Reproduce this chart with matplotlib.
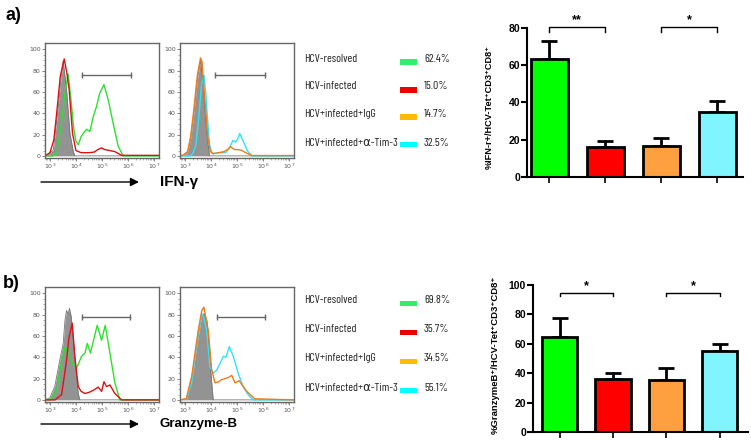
import matplotlib
matplotlib.use("Agg")
import matplotlib.pyplot as plt
from matplotlib.patches import Rectangle, FancyArrowPatch
from matplotlib import font_manager
import numpy as np

# ---------------- data ----------------
groups = ["HCV-resolved", "HCV-infected", "HCV+infected+IgG", "HCV+infected+\u03b1-Tim-3"]
pct_ifn = ["62.4%", "15.0%", "14.7%", "32.5%"]
pct_gzb = ["69.8%", "35.7%", "34.5%", "55.1%"]

ifn_mean = [63, 15.9, 16.6, 34.6]
ifn_sem = [10, 3.6, 4.4, 5.9]
gzb_mean = [64.4, 36, 35.6, 55.1]
gzb_sem = [12.9, 4, 8.1, 4.8]
ifn_sig = ["**", "*"]
gzb_sig = ["*", "*"]

# histogram curves (log10 fluorescence, % of max)
a1_gray_x = [2.81, 2.87, 3.13, 3.32, 3.45, 3.51, 3.64, 3.77, 3.90, 3.96, 4.2, 7.2]
a1_gray_y = [0, 0, 5.6, 46, 78, 89, 62, 21, 4, 0, 0, 0]
a1_red_x = [2.81, 3.0, 3.15, 3.26, 3.4, 3.55, 3.65, 3.74, 3.87, 4.0, 4.2, 4.5, 4.7, 4.85, 4.99, 5.1, 5.3, 5.5, 5.65, 5.76, 7.2]
a1_red_y = [0, 3, 15, 40, 75, 91, 78, 62, 21, 5, 3, 3, 3.5, 6, 7.5, 6, 5, 4, 2, 0.5, 0.5]
a1_green_x = [2.81, 3.1, 3.26, 3.45, 3.58, 3.70, 3.80, 3.92, 4.00, 4.09, 4.20, 4.28, 4.41, 4.54, 4.67, 4.79, 4.92, 5.08, 5.16, 5.24, 5.43, 5.63, 5.82, 7.2]
a1_green_y = [0, 0, 2, 31, 59, 77, 55, 25, 14, 10.4, 18, 21, 25, 23, 37, 46, 59, 67, 60, 53, 31, 9, 0, 0]

a2_gray_x = [2.81, 2.93, 3.1, 3.22, 3.35, 3.48, 3.61, 3.73, 3.86, 3.95, 4.1, 7.2]
a2_gray_y = [0, 0, 3, 16, 41, 72, 90, 56, 16, 0, 0, 0]
a2_orange_x = [2.81, 2.95, 3.1, 3.22, 3.35, 3.48, 3.6, 3.66, 3.75, 3.88, 3.98, 4.1, 4.3, 4.5, 4.65, 4.76, 4.9, 5.08, 5.2, 5.34, 5.58, 7.2]
a2_orange_y = [0, 1, 4, 18, 45, 76, 92, 88, 58, 18, 4, 2, 3, 4, 6, 8.6, 6, 5.7, 5, 3, 0.3, 0.3]
a2_cyan_x = [2.81, 3.2, 3.3, 3.42, 3.54, 3.64, 3.73, 3.80, 3.86, 3.95, 4.05, 4.3, 4.57, 4.7, 4.76, 4.85, 4.95, 5.03, 5.11, 5.24, 5.41, 5.58, 7.2]
a2_cyan_y = [0, 0, 2, 10, 38, 66, 76, 60, 38, 10, 2, 3, 3, 7, 10, 14.5, 13, 16, 21, 14, 4.5, 0, 0]

b1_gray_x = [2.81, 3.0, 3.19, 3.38, 3.51, 3.58, 3.64, 3.70, 3.75, 3.82, 3.9, 4.0, 4.09, 4.15, 7.2]
b1_gray_y = [0, 2, 13, 37.5, 53, 75, 84, 80, 86, 78, 56, 28, 6, 0, 0]
b1_red_x = [2.81, 3.2, 3.45, 3.64, 3.73, 3.86, 3.96, 4.09, 4.2, 4.35, 4.5, 4.67, 4.86, 4.99, 5.08, 5.18, 5.31, 5.5, 5.76, 7.2]
b1_red_y = [0, 0, 5, 37, 58, 72, 40.6, 12.5, 8, 6, 7, 9, 12, 8, 17, 12.5, 14, 6, 0, 0]
b1_green_x = [2.81, 3.0, 3.26, 3.45, 3.6, 3.77, 3.9, 4.05, 4.22, 4.35, 4.44, 4.56, 4.7, 4.82, 4.99, 5.13, 5.31, 5.5, 5.69, 7.2]
b1_green_y = [0, 0, 9, 37, 50, 39, 33, 31, 41, 44, 53, 44, 58, 70, 56, 70, 44, 16, 0, 0]

b2_gray_x = [2.81, 3.07, 3.32, 3.51, 3.65, 3.73, 3.84, 3.90, 3.99, 4.09, 7.2]
b2_gray_y = [0, 1, 28, 59, 80, 81, 75, 59, 28, 0, 0]
b2_orange_x = [2.81, 3.05, 3.26, 3.51, 3.65, 3.73, 3.9, 4.03, 4.16, 4.3, 4.41, 4.55, 4.67, 4.8, 4.93, 5.09, 5.2, 5.38, 5.69, 7.2]
b2_orange_y = [0, 1, 22, 65, 84, 87, 65, 28, 16, 17, 19, 20, 21, 23, 16, 18, 14, 8, 1, 0]
b2_cyan_x = [2.81, 3.05, 3.26, 3.45, 3.64, 3.72, 3.84, 3.96, 4.09, 4.22, 4.35, 4.48, 4.58, 4.71, 4.86, 5.05, 5.24, 5.43, 5.62, 7.2]
b2_cyan_y = [0, 1, 16, 53, 81, 78, 65, 31, 25, 28, 34, 41, 40, 50, 41, 25, 12.5, 5, 0, 0]

gate_a1 = [4.22, 6.12, 76]
gate_a2 = [4.16, 6.08, 76]
gate_b1 = [4.22, 6.10, 78]
gate_b2 = [4.22, 6.08, 78]

# ---------------- style ----------------
W, H = 751, 443
fig = plt.figure(figsize=(W / 100, H / 100), dpi=100)

names = {f.name for f in font_manager.fontManager.ttflist}
narrow = None
for cand in ["Barlow Condensed", "Asap Condensed", "Archivo Narrow", "Liberation Sans Narrow"]:
    if cand in names:
        narrow = cand
        break
if narrow is None:
    narrow_family = ["DejaVu Sans"]
    narrow_stretch = "condensed"
else:
    narrow_family = [narrow, "DejaVu Sans"]
    narrow_stretch = "normal"
ARIAL = ["Liberation Sans", "DejaVu Sans"]

bar_colors = ["#00ff00", "#ff0000", "#ffa040", "#80f4ff"]
sw_colors = ["#33ee66", "#ee0000", "#ffbb00", "#00ffff"]
c_green, c_red, c_orange, c_cyan = "#2ee02e", "#dd1111", "#f07a1a", "#30e4f4"


def px_axes(l, t, r, b):
    return fig.add_axes([l / W, 1 - b / H, (r - l) / W, (b - t) / H])


def hist_axes(l, t, r, b):
    ax = px_axes(l, t, r, b)
    ax.set_xscale("log")
    ax.set_xlim(10 ** 2.81, 10 ** 7.2)
    ax.set_ylim(-2, 106)
    ax.set_xticks([1e3, 1e4, 1e5, 1e6, 1e7])
    ax.set_xticklabels([r"$10^{%d}$" % k for k in range(3, 8)])
    ax.set_yticks([0, 20, 40, 60, 80, 100])
    ax.set_yticks(np.arange(0, 101, 5), minor=True)
    ax.tick_params(axis="both", which="major", labelsize=4.5, length=2, width=0.5,
                   colors="#555555", pad=1)
    ax.tick_params(axis="both", which="minor", length=1.2, width=0.4, colors="#777777")
    for s in ax.spines.values():
        s.set_color("#666666")
        s.set_linewidth(1.0)
    return ax


def draw_gate(ax, g):
    ax.plot([10 ** g[0], 10 ** g[1]], [g[2], g[2]], color="#666666", lw=1.0)
    ax.plot([10 ** g[0], 10 ** g[1]], [g[2], g[2]], ls="none", marker="|",
            ms=4, mew=1.0, color="#666666")


def fill_gray(ax, lx, y):
    x = 10 ** np.array(lx)
    ax.fill_between(x, y, 0, color="#939393", lw=0, zorder=1)
    ax.plot(x, y, color="#777777", lw=0.6, zorder=1.5)


def curve(ax, lx, y, c):
    ax.plot(10 ** np.array(lx), y, color=c, lw=1.0, zorder=2)


# ---- panel a histograms
ax = hist_axes(45, 43, 159, 158)
fill_gray(ax, a1_gray_x, a1_gray_y)
curve(ax, a1_green_x, a1_green_y, c_green)
curve(ax, a1_red_x, a1_red_y, c_red)
draw_gate(ax, gate_a1)

ax = hist_axes(180, 43, 294, 158)
fill_gray(ax, a2_gray_x, a2_gray_y)
curve(ax, a2_cyan_x, a2_cyan_y, c_cyan)
curve(ax, a2_orange_x, a2_orange_y, c_orange)
draw_gate(ax, gate_a2)

# ---- panel b histograms
ax = hist_axes(45, 287, 159, 402)
fill_gray(ax, b1_gray_x, b1_gray_y)
curve(ax, b1_green_x, b1_green_y, c_green)
curve(ax, b1_red_x, b1_red_y, c_red)
draw_gate(ax, gate_b1)

ax = hist_axes(180, 287, 294, 402)
fill_gray(ax, b2_gray_x, b2_gray_y)
curve(ax, b2_cyan_x, b2_cyan_y, c_cyan)
curve(ax, b2_orange_x, b2_orange_y, c_orange)
draw_gate(ax, gate_b2)


# ---- arrows and axis names
def fig_arrow(x0, x1, y):
    a = FancyArrowPatch((x0 / W, 1 - y / H), (x1 / W, 1 - y / H), transform=fig.transFigure,
                        arrowstyle="-|>,head_length=5,head_width=2.5", color="black", lw=1.0,
                        shrinkA=0, shrinkB=0)
    fig.add_artist(a)


fig_arrow(41, 139, 182)
fig_arrow(41, 139, 424)
fig.text(160 / W, 1 - 182 / H, "IFN-\u03b3", fontsize=11, fontweight="bold", family=ARIAL,
         ha="left", va="center")
fig.text(160 / W, 1 - 424 / H, "Granzyme-B", fontsize=9.5, fontweight="bold", family=ARIAL,
         ha="left", va="center")

fig.text(5 / W, 1 - 15 / H, "a)", fontsize=13, fontweight="bold", family=ARIAL, ha="left", va="center")
fig.text(3 / W, 1 - 283 / H, "b)", fontsize=13, fontweight="bold", family=ARIAL, ha="left", va="center")

# ---- legends
name_texts = []
pct_texts = []


def legend_block(text_ys, sw_ys, pcts):
    for name, ty, sy, p, c in zip(groups, text_ys, sw_ys, pcts, sw_colors):
        t1 = fig.text(304 / W, 1 - ty / H, name, fontsize=10, family=narrow_family,
                      fontstretch=narrow_stretch, color="#222222", ha="left", va="center")
        t2 = fig.text(424 / W, 1 - ty / H, p, fontsize=10, family=narrow_family,
                      fontstretch=narrow_stretch, color="#222222", ha="left", va="center")
        name_texts.append(t1)
        pct_texts.append(t2)
        fig.add_artist(Rectangle((400 / W, 1 - (sy + 2.5) / H), 17 / W, 5 / H,
                                 transform=fig.transFigure, color=c, lw=0))


legend_block([59, 86, 114, 143], [62, 90, 117, 144], pct_ifn)
legend_block([300, 329, 358, 388], [303, 332, 361, 390], pct_gzb)

# fit legend font sizes to the widths seen in the reference
renderer = fig.canvas.get_renderer()
w_name = max(t.get_window_extent(renderer).width for t in name_texts)
fs_name = min(11, 10 * 94.0 / w_name)
w_pct = max(t.get_window_extent(renderer).width for t in pct_texts)
fs_pct = min(11, 10 * 26.0 / w_pct)
for t in name_texts:
    t.set_fontsize(fs_name)
for t in pct_texts:
    t.set_fontsize(fs_pct)


# ---- bar charts
def bar_chart(l, t, r, b, means, sems, ymax, yticks, xlim, sig, br_y, br_d, star_y, ylabel, lab_x, lab_y, lab_fs):
    ax = px_axes(l, t, r, b)
    pos = np.arange(len(means))
    ax.errorbar(pos, means, yerr=[np.zeros(len(means)), sems], fmt="none", ecolor="black",
                elinewidth=2, capsize=6, capthick=2, zorder=1)
    ax.bar(pos, means, width=0.66, color=bar_colors, edgecolor="black", linewidth=2, zorder=2)
    ax.set_xlim(*xlim)
    ax.set_ylim(0, ymax)
    ax.set_yticks(yticks)
    ax.set_xticks(pos)
    ax.set_xticklabels([])
    for s in ["top", "right"]:
        ax.spines[s].set_visible(False)
    for s in ["left", "bottom"]:
        ax.spines[s].set_linewidth(1.5)
    ax.tick_params(axis="y", length=4, width=1.5, labelsize=7.5, pad=1)
    ax.tick_params(axis="x", length=4, width=1.2)
    for lbl in ax.get_yticklabels():
        lbl.set_fontweight("bold")
        lbl.set_family(ARIAL)
    for (i0, i1), s in zip([(0, 1), (2, 3)], sig):
        ax.plot([i0, i0, i1, i1], [br_y - br_d, br_y, br_y, br_y - br_d], color="black",
                lw=1.0, clip_on=False)
        ax.text((i0 + i1) / 2, star_y, s, ha="center", va="center", fontsize=9,
                fontweight="bold", family=ARIAL)
    fig.text(lab_x / W, 1 - lab_y / H, ylabel, rotation=90, ha="center", va="center",
             fontsize=lab_fs, fontweight="bold", family=ARIAL)
    return ax


bar_chart(527, 27.5, 743, 177, ifn_mean, ifn_sem, 80, [0, 20, 40, 60, 80], (-0.393, 3.46),
          ifn_sig, 80.5, 3, 84, "%IFN-r+/HCV-Tet\u207aCD3\u207aCD8\u207a", 489, 107, 6.6)
bar_chart(533, 285, 748, 432, gzb_mean, gzb_sem, 100, [0, 20, 40, 60, 80, 100], (-0.497, 3.53),
          gzb_sig, 94.7, 2.2, 99.5, "%GranzymeB\u207a/HCV-Tet\u207aCD3\u207aCD8\u207a", 495, 355, 6.8)

fig.savefig("out.png", dpi=100)
